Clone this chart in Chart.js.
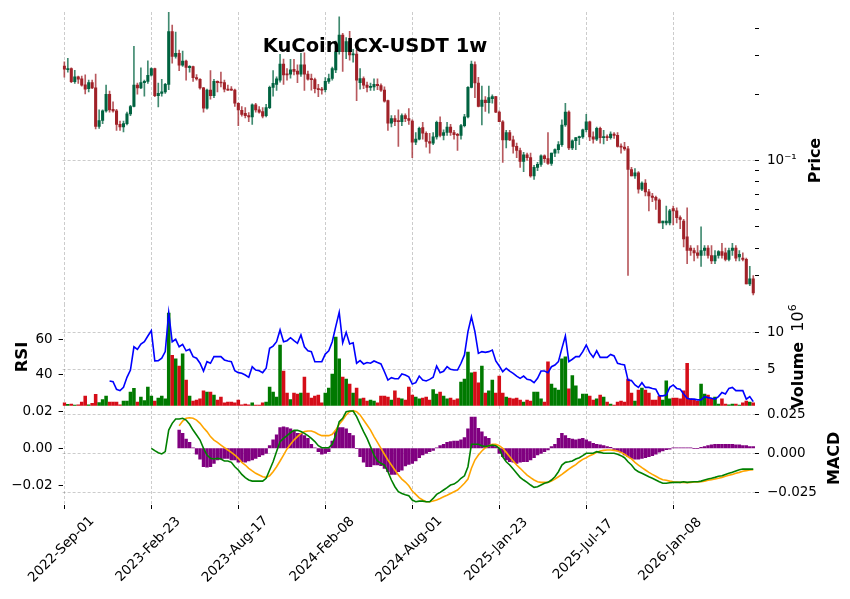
<!DOCTYPE html>
<html>
<head>
<meta charset="utf-8">
<script src="https://cdn.jsdelivr.net/npm/chart.js@4.4.1/dist/chart.umd.min.js"></script>
<style>
html, body { margin: 0; padding: 0; background: #fff; }
#wrap { position: relative; width: 850px; height: 599px; overflow: hidden; }
canvas { position: absolute; left: 0; }
</style>
</head>
<body>
<div id="wrap">
  <canvas id="cPrice" width="850" height="332" style="top:-8px"></canvas>
  <canvas id="cMid" width="850" height="142" style="top:284px"></canvas>
  <canvas id="cMacd" width="850" height="213" style="top:386px"></canvas>
</div>
<script>
// weekly candles, KuCoin ICX-USDT, first week 2022-09-01
const xTickIdx = [0, 25, 50, 75, 100, 125, 150, 175];
const xTickLabels = ['2022-Sep-01', '2023-Feb-23', '2023-Aug-17', '2024-Feb-08',
                     '2024-Aug-01', '2025-Jan-23', '2025-Jul-17', '2026-Jan-08'];

const opens = [
  .269,.259,.262,.228,.240,.235,.221,.212,.226,.214,
  .143,.152,.168,.200,.171,.168,.146,.142,.147,.163,
  .176,.220,.214,.226,.229,.244,.262,.197,.202,.205,
  .222,.386,.297,.307,.271,.283,.264,.267,.238,.234,
  .214,.173,.209,.197,.229,.226,.226,.211,.210,.209,
  .182,.169,.164,.160,.158,.179,.170,.167,.160,.174,
  .215,.222,.232,.274,.247,.247,.260,.255,.247,.272,
  .247,.236,.233,.212,.211,.210,.229,.236,.258,.312,
  .372,.312,.347,.302,.305,.226,.236,.220,.215,.216,
  .222,.219,.209,.187,.148,.155,.152,.150,.160,.155,
  .151,.121,.125,.141,.133,.122,.120,.128,.149,.130,
  .134,.142,.134,.131,.130,.144,.158,.215,.273,.225,
  .176,.188,.183,.191,.195,.166,.150,.124,.134,.124,
  .116,.111,.099,.106,.103,.085,.093,.096,.105,.102,
  .097,.108,.112,.118,.145,.166,.114,.123,.127,.128,
  .138,.150,.128,.125,.140,.127,.128,.127,.132,.130,
  .116,.115,.113,.091,.085,.088,.074,.079,.072,.069,
  .068,.066,.052,.052,.052,.0605,.059,.055,.053,.045,
  .040,.039,.038,.037,.039,.040,.037,.035,.037,.0385,
  .038,.0355,.039,.040,.0365,.036,.0355,.0275,.029
];
const highs = [
  .281,.291,.264,.257,.242,.242,.245,.232,.232,.247,
  .170,.170,.220,.207,.185,.171,.151,.151,.166,.178,
  .330,.225,.264,.232,.284,.264,.263,.225,.234,.224,
  .476,.413,.384,.318,.314,.286,.270,.269,.246,.236,
  .215,.211,.256,.234,.230,.252,.232,.220,.217,.211,
  .183,.176,.174,.165,.181,.182,.176,.174,.180,.218,
  .256,.240,.304,.289,.262,.288,.288,.272,.307,.309,
  .255,.247,.237,.222,.215,.238,.247,.266,.349,.450,
  .379,.362,.387,.320,.318,.262,.240,.227,.225,.235,
  .235,.223,.216,.188,.160,.160,.170,.163,.163,.172,
  .153,.134,.142,.149,.135,.133,.134,.151,.158,.138,
  .149,.146,.137,.133,.146,.162,.217,.283,.281,.239,
  .218,.195,.218,.199,.196,.168,.152,.137,.137,.129,
  .120,.114,.109,.108,.108,.095,.098,.106,.106,.134,
  .108,.113,.122,.153,.182,.168,.124,.127,.129,.139,
  .162,.151,.135,.142,.142,.137,.131,.135,.134,.134,
  .119,.121,.116,.093,.092,.089,.080,.082,.074,.071,
  .069,.067,.053,.062,.060,.062,.061,.056,.054,.061,
  .041,.040,.041,.050,.041,.041,.041,.039,.039,.042,
  .040,.040,.042,.041,.039,.038,.036,.033,.030
];
const lows = [
  .239,.252,.226,.224,.224,.218,.201,.205,.212,.139,
  .140,.147,.166,.166,.166,.137,.137,.135,.145,.160,
  .175,.200,.212,.196,.224,.242,.195,.175,.196,.202,
  .210,.277,.292,.256,.268,.232,.252,.229,.232,.211,
  .166,.171,.190,.193,.205,.216,.205,.208,.208,.176,
  .144,.159,.156,.150,.146,.166,.164,.156,.158,.172,
  .196,.208,.227,.222,.232,.237,.245,.226,.241,.208,
  .232,.209,.203,.195,.200,.205,.224,.232,.251,.304,
  .254,.290,.286,.280,.187,.211,.212,.205,.208,.208,
  .210,.206,.184,.137,.142,.144,.116,.144,.150,.146,
  .103,.118,.124,.125,.115,.108,.118,.125,.128,.124,
  .130,.130,.125,.111,.125,.142,.156,.214,.193,.175,
  .145,.167,.164,.182,.165,.150,.098,.114,.123,.108,
  .103,.093,.089,.100,.084,.082,.090,.094,.098,.096,
  .095,.104,.108,.116,.143,.112,.112,.112,.118,.126,
  .135,.123,.120,.123,.120,.119,.123,.125,.126,.115,
  .108,.111,.030,.085,.083,.071,.073,.069,.059,.065,
  .060,.052,.049,.051,.051,.051,.052,.049,.0405,.034,
  .037,.035,.036,.033,.037,.036,.034,.034,.036,.036,
  .035,.035,.037,.035,.035,.035,.0275,.027,.0245
];
const closes = [
  .260,.262,.228,.240,.234,.220,.211,.226,.214,.143,
  .152,.168,.200,.170,.168,.146,.142,.147,.163,.176,
  .220,.214,.226,.229,.244,.262,.197,.202,.205,.222,
  .386,.297,.307,.271,.283,.265,.268,.238,.235,.214,
  .173,.209,.197,.229,.226,.225,.211,.209,.209,.182,
  .170,.162,.160,.158,.179,.170,.166,.159,.174,.215,
  .224,.235,.274,.245,.245,.258,.254,.247,.272,.247,
  .234,.233,.212,.210,.209,.229,.236,.262,.312,.372,
  .312,.347,.302,.305,.232,.236,.220,.215,.216,.222,
  .219,.209,.186,.148,.155,.150,.150,.160,.155,.152,
  .121,.125,.140,.133,.122,.120,.128,.149,.130,.134,
  .142,.134,.131,.130,.144,.158,.215,.274,.225,.176,
  .188,.183,.193,.195,.166,.150,.124,.134,.124,.116,
  .111,.099,.106,.103,.085,.093,.096,.105,.102,.097,
  .108,.112,.118,.145,.166,.114,.123,.127,.128,.138,
  .150,.128,.125,.140,.127,.128,.127,.132,.130,.116,
  .115,.113,.091,.085,.088,.074,.079,.072,.069,.068,
  .066,.052,.053,.053,.059,.059,.055,.054,.044,.039,
  .039,.038,.037,.039,.040,.037,.035,.037,.0385,.037,
  .0355,.039,.040,.036,.0375,.0355,.0275,.029,.025
];
// volume in millions
const volumeM = [
  .35,.15,.2,.05,.1,.48,1.3,.1,.3,1.54,
  .4,.8,1.3,.48,.48,.48,.1,.62,.62,1.85,
  2.36,.48,1.17,.67,2.54,1.3,.62,1.03,1.3,.9,
  12.7,6.9,6.4,5.4,7.1,3.5,1.3,.62,.76,.9,
  2.0,1.85,1.85,1.44,.76,1.17,.35,.48,.48,.35,
  .76,.1,.2,.1,.35,.05,.05,.35,.48,2.54,
  1.85,1.17,8.3,4.74,1.71,.8,1.71,1.57,1.71,3.9,
  1.71,1.03,1.3,1.44,.35,1.71,2.4,4.33,9.4,6.4,
  3.9,3.64,2.95,1.71,2.4,.9,1.03,.62,.76,.62,
  .35,1.3,1.3,1.17,.76,2.0,1.03,.9,.76,2.54,
  1.44,1.17,.9,1.03,1.17,.76,2.2,1.57,1.85,1.3,
  .9,1.03,.76,.9,3.2,3.64,7.35,4.47,4.6,3.1,
  5.4,1.71,2.0,3.5,1.71,4.05,1.71,1.17,1.03,.9,
  1.03,.76,.48,.76,.62,1.85,1.85,.9,.48,6.0,
  2.95,2.4,2.1,6.4,6.7,2.3,4.1,2.7,.9,1.57,
  1.57,1.3,.76,.9,1.44,1.17,.48,.2,.05,.48,
  .62,.48,3.64,1.71,.62,2.1,2.4,2.1,1.71,.76,
  .76,1.3,.76,3.4,.9,1.03,1.03,.9,2.0,5.8,
  .9,.76,.62,2.95,1.57,1.44,.9,1.17,.2,.9,
  .2,.1,.2,.2,.05,.35,.62,.48,.35
];
const rsi = [
  null,null,null,null,null,null,null,null,null,null,
  null,null,null,36.0,35.6,31.2,30.4,32.3,38.1,42.3,
  55.7,54.2,57.3,58.6,61.9,65.0,47.5,47.7,49.1,52.9,
  75.3,58.6,60.0,55.7,57.1,53.4,54.2,50.0,49.1,46.2,
  41.7,47.1,46.2,50.0,50.0,50.0,48.1,47.5,47.1,41.9,
  40.8,40.4,39.4,38.1,44.2,42.3,41.9,40.8,43.3,54.8,
  56.1,58.6,65.4,58.6,59.2,60.9,59.2,57.7,62.5,55.7,
  53.4,52.9,47.1,47.1,47.1,51.5,53.4,58.6,67.3,75.6,
  58.0,64.0,57.3,58.0,46.2,47.7,45.8,46.6,46.2,47.5,
  46.6,45.8,41.3,36.5,37.9,37.3,37.3,40.0,39.4,38.4,
  34.2,35.0,38.8,36.5,36.0,36.9,38.1,44.6,40.8,41.6,
  44.2,42.7,42.3,42.3,46.2,51.0,64.4,73.0,64.4,51.9,
  52.9,52.5,52.9,53.8,47.5,44.6,41.3,43.3,41.7,40.4,
  38.8,37.5,38.8,36.9,36.5,35.0,37.5,41.7,41.7,40.8,
  44.2,45.2,47.1,54.8,61.9,47.1,48.5,50.0,50.0,52.9,
  56.7,52.3,49.6,53.4,49.6,49.6,49.6,51.3,50.4,46.2,
  45.6,45.2,36.5,36.2,33.7,32.3,35.0,32.3,32.3,31.7,
  31.2,27.4,27.4,27.9,32.3,33.7,31.7,31.2,28.5,26.0,
  25.5,25.5,25.1,25.1,27.0,26.4,26.0,25.5,27.0,29.3,
  28.5,31.7,32.3,30.4,30.4,30.4,25.5,27.0,24.1
];
const macd = [
  null,null,null,null,null,null,null,null,null,null,
  null,null,null,null,null,null,null,null,null,null,
  null,null,null,null,null,.0032,.0017,.0004,-.0004,.0011,
  .0149,.0192,.0220,.0220,.0224,.0213,.0186,.0149,.0117,.0085,
  .0032,-.0011,-.0032,-.0036,-.0032,-.0036,-.0049,-.0049,-.0058,-.0086,
  -.0107,-.0135,-.0156,-.0171,-.0178,-.0178,-.0178,-.0178,-.0160,-.0107,
  -.0054,.0011,.0075,.0096,.0113,.0132,.0147,.0147,.0139,.0128,
  .0113,.0096,.0075,.0049,.0036,.0036,.0036,.0058,.0117,.0203,
  .0224,.0267,.0271,.0271,.0235,.0186,.0139,.0096,.0043,-.0011,
  -.0049,-.0064,-.0075,-.0118,-.0171,-.0214,-.0246,-.0257,-.0265,-.0272,
  -.0299,-.0310,-.0306,-.0306,-.0310,-.0310,-.0289,-.0263,-.0250,-.0235,
  -.0220,-.0203,-.0197,-.0182,-.0160,-.0144,-.0086,.0058,.0058,.0058,
  .0049,.0043,.0049,.0053,.0049,.0032,-.0022,-.0054,-.0075,-.0101,
  -.0128,-.0154,-.0171,-.0186,-.0203,-.0218,-.0214,-.0203,-.0192,-.0186,
  -.0171,-.0150,-.0118,-.0075,-.0058,-.0054,-.0049,-.0036,-.0028,-.0015,
  .0000,.0000,.0000,.0011,.0006,.0000,.0000,.0000,.0000,-.0006,
  -.0015,-.0028,-.0054,-.0075,-.0103,-.0118,-.0128,-.0139,-.0150,-.0160,
  -.0171,-.0182,-.0192,-.0192,-.0188,-.0186,-.0186,-.0186,-.0182,-.0186,
  -.0184,-.0182,-.0182,-.0178,-.0171,-.0165,-.0160,-.0154,-.0147,-.0144,
  -.0135,-.0128,-.0122,-.0113,-.0105,-.0101,-.0101,-.0101,-.0101
];
const signal = [
  null,null,null,null,null,null,null,null,null,null,
  null,null,null,null,null,null,null,null,null,null,
  null,null,null,null,null,null,null,null,null,null,
  null,null,null,.0177,.0207,.0224,.0228,.0224,.0213,.0192,
  .0164,.0139,.0107,.0085,.0070,.0053,.0036,.0021,.0006,-.0011,
  -.0032,-.0058,-.0075,-.0096,-.0113,-.0128,-.0139,-.0150,-.0154,-.0144,
  -.0118,-.0086,-.0049,-.0011,.0028,.0058,.0085,.0107,.0128,.0139,
  .0143,.0143,.0135,.0122,.0113,.0113,.0113,.0122,.0149,.0186,
  .0213,.0246,.0267,.0273,.0267,.0246,.0213,.0181,.0149,.0107,
  .0070,.0032,-.0006,-.0043,-.0075,-.0107,-.0139,-.0165,-.0184,-.0208,
  -.0242,-.0263,-.0285,-.0299,-.0310,-.0310,-.0306,-.0299,-.0289,-.0278,
  -.0268,-.0257,-.0246,-.0235,-.0214,-.0192,-.0165,-.0096,-.0043,-.0011,
  .0015,.0036,.0049,.0058,.0058,.0049,.0032,.0006,-.0022,-.0049,
  -.0075,-.0096,-.0118,-.0139,-.0156,-.0171,-.0182,-.0186,-.0186,-.0186,
  -.0178,-.0165,-.0150,-.0135,-.0118,-.0101,-.0086,-.0073,-.0054,-.0039,
  -.0028,-.0015,-.0006,.0006,.0015,.0019,.0021,.0021,.0019,.0015,
  .0006,-.0006,-.0022,-.0036,-.0058,-.0075,-.0092,-.0107,-.0122,-.0135,
  -.0147,-.0160,-.0169,-.0173,-.0178,-.0182,-.0184,-.0186,-.0186,-.0188,
  -.0186,-.0184,-.0184,-.0182,-.0178,-.0173,-.0169,-.0165,-.0160,-.0154,
  -.0147,-.0141,-.0135,-.0128,-.0122,-.0115,-.0111,-.0107,-.0105
];
const histogram = [
  null,null,null,null,null,null,null,null,null,null,
  null,null,null,null,null,null,null,null,null,null,
  null,null,null,null,null,null,null,null,null,null,
  null,null,null,.0098,.0081,.0050,.0032,.0003,-.0032,-.0058,
  -.0099,-.0102,-.0099,-.0081,-.0063,-.0058,-.0054,-.0054,-.0063,-.0063,
  -.0075,-.0072,-.0075,-.0068,-.0063,-.0054,-.0045,-.0036,-.0027,.0014,
  .0045,.0072,.0111,.0116,.0111,.0104,.0093,.0081,.0081,.0068,
  .0054,.0022,.0003,-.0018,-.0032,-.0027,-.0018,.0039,.0093,.0111,
  .0111,.0104,.0081,.0068,.0000,-.0045,-.0075,-.0099,-.0099,-.0090,
  -.0090,-.0094,-.0108,-.0126,-.0140,-.0140,-.0126,-.0117,-.0095,-.0086,
  -.0081,-.0068,-.0050,-.0036,-.0027,-.0018,-.0011,.0003,.0014,.0022,
  .0032,.0036,.0039,.0039,.0045,.0057,.0104,.0168,.0168,.0108,
  .0089,.0063,.0054,.0022,.0009,-.0027,-.0045,-.0063,-.0072,-.0075,
  -.0081,-.0075,-.0072,-.0072,-.0063,-.0050,-.0036,-.0027,-.0018,-.0009,
  .0009,.0022,.0054,.0081,.0068,.0054,.0050,.0046,.0050,.0054,
  .0045,.0036,.0027,.0022,.0018,.0014,.0009,.0005,-.0009,-.0014,
  -.0021,-.0036,-.0045,-.0054,-.0058,-.0058,-.0054,-.0050,-.0045,-.0039,
  -.0032,-.0021,-.0014,-.0007,-.0004,.0003,.0003,.0003,.0003,.0002,
  .0002,0,0,.0005,.0009,.0014,.0018,.0022,.0022,.0022,
  .0022,.0022,.0022,.0018,.0018,.0014,.0014,.0009,.0009
];

const priceTicks = [0.03, 0.04, 0.05, 0.06, 0.07, 0.08, 0.09, 0.1, 0.2, 0.3, 0.4];

Chart.defaults.font.family = '"DejaVu Sans", sans-serif';
Chart.defaults.font.size = 13.5;
Chart.defaults.color = '#000';
Chart.defaults.animation = false;

const gridCol = 'rgba(0,0,0,0.25)';
const weeks = opens.map((_, i) => i);
const isUp = weeks.map(i => closes[i] >= opens[i]);
const FONT = '"DejaVu Sans", sans-serif';

function xScale(showTicks) {
  return {
    type: 'linear', min: -0.5, max: 198.5, offset: false,
    afterBuildTicks: s => { s.ticks = xTickIdx.map(v => ({ value: v })); },
    ticks: { display: false },
    grid: { color: gridCol, lineWidth: 0.8, offset: false, drawTicks: showTicks,
            tickLength: 4, tickColor: '#000', tickWidth: 1 },
    border: { display: false, dash: [3, 2] },
    afterFit: s => { s.height = showTicks ? 4 : 0; }
  };
}

function yScale(pos, min, max, ticks, labelFn, gridOn, type) {
  return {
    type: type || 'linear', position: pos, min: min, max: max,
    afterBuildTicks: s => { s.ticks = ticks.map(v => ({ value: v })); },
    ticks: { callback: labelFn, padding: pos === 'right' ? 8 : 6, autoSkip: false, maxRotation: 0, font: { size: 13.5 } },
    grid: {
      drawOnChartArea: !!gridOn, lineWidth: 0.8, tickLength: 4, tickColor: '#000', tickWidth: 1,
      color: c => (gridOn && gridOn(c.tick ? c.tick.value : null)) ? gridCol : 'rgba(0,0,0,0)'
    },
    border: { display: false, dash: [3, 2] },
    afterFit: s => { s.width = pos === 'right' ? 95 : 62.6; }
  };
}

// rotated text helper: bx = baseline x, cy = centre y (canvas coords)
function vText(ctx, parts, bx, cy) {
  ctx.save();
  ctx.translate(bx, cy);
  ctx.rotate(-Math.PI / 2);
  ctx.fillStyle = '#000';
  ctx.textAlign = 'left';
  ctx.textBaseline = 'alphabetic';
  let total = 0;
  parts.forEach(p => { ctx.font = p.font; p.w = ctx.measureText(p.t).width; total += p.w; });
  let x = -total / 2;
  parts.forEach(p => { ctx.font = p.font; ctx.fillText(p.t, x, p.dy || 0); x += p.w; });
  ctx.restore();
}

const baseOpts = {
  responsive: false, animation: false, events: [],
  plugins: { legend: { display: false }, tooltip: { enabled: false }, title: { display: false } }
};

// ---- price panel (canvas top at page y = -8)
new Chart(document.getElementById('cPrice'), {
  type: 'bar',
  data: {
    datasets: [
      { data: weeks.map(i => ({ x: i, y: [opens[i], closes[i]] })),
        backgroundColor: weeks.map(i => isUp[i] ? '#006340' : '#a02128'),
        barThickness: 2.4, grouped: false, minBarLength: 1 },
      { data: weeks.map(i => ({ x: i, y: [lows[i], highs[i]] })),
        backgroundColor: weeks.map(i => isUp[i] ? 'rgba(0,99,64,0.75)' : 'rgba(160,33,40,0.75)'),
        barThickness: 1, grouped: false }
    ]
  },
  options: Object.assign({}, baseOpts, {
    layout: { padding: { left: 62.6, right: 0, top: 20, bottom: 20 }, autoPadding: false },
    scales: {
      x: xScale(false),
      y: yScale('right', 0.02227, 0.4732, priceTicks, v => v === 0.1 ? '10\u207B\u00B9' : '',
                v => v === 0.1, 'logarithmic')
    }
  }),
  plugins: [{
    id: 'priceText',
    afterDraw(chart) {
      const ctx = chart.ctx;
      ctx.save();
      ctx.fillStyle = '#000';
      ctx.font = 'bold 19.5px ' + FONT;
      ctx.textAlign = 'center';
      ctx.textBaseline = 'middle';
      ctx.fillText('KuCoin ICX-USDT 1w', 375, 55);
      ctx.restore();
      vText(ctx, [{ t: 'Price', font: 'bold 16px ' + FONT }], 820, 168.5);
    }
  }]
});

// ---- RSI + volume panel (canvas top at page y = 284)
new Chart(document.getElementById('cMid'), {
  data: {
    datasets: [
      { type: 'line', data: weeks.map(i => ({ x: i, y: rsi[i] })), yAxisID: 'rsi',
        borderColor: '#0000ff', borderWidth: 1.6, pointRadius: 0, spanGaps: false, tension: 0 },
      { type: 'bar', data: weeks.map(i => ({ x: i, y: volumeM[i] })), yAxisID: 'vol',
        backgroundColor: weeks.map(i => isUp[i] ? '#007a00' : '#d50d18'),
        barThickness: 2.9, grouped: false }
    ]
  },
  options: Object.assign({}, baseOpts, {
    layout: { padding: { left: 0, right: 0, top: 20, bottom: 20 }, autoPadding: false },
    scales: {
      x: xScale(false),
      rsi: yScale('left', 21.56, 80.35, [40, 60], v => String(v), null),
      vol: yScale('right', -0.07, 13.94, [5, 10], v => String(v), v => v === 5 || v === 10)
    }
  }),
  plugins: [{
    id: 'midText',
    afterDraw(chart) {
      const ctx = chart.ctx;
      vText(ctx, [{ t: 'RSI', font: 'bold 16.5px ' + FONT }], 26.5, 73);
      vText(ctx, [
        { t: 'Volume', font: 'bold 16px ' + FONT },
        { t: '  10', font: '16px ' + FONT },
        { t: '6', font: '11px ' + FONT, dy: -7 }
      ], 803, 72.5);
    }
  }]
});

// ---- MACD panel (canvas top at page y = 386)
const minus = v => v < 0 ? '\u2212' : '';
new Chart(document.getElementById('cMacd'), {
  data: {
    datasets: [
      { type: 'line', data: weeks.map(i => ({ x: i, y: macd[i] })), yAxisID: 'm',
        borderColor: '#008000', borderWidth: 1.6, pointRadius: 0, tension: 0 },
      { type: 'line', data: weeks.map(i => ({ x: i, y: signal[i] })), yAxisID: 'm',
        borderColor: '#ffa500', borderWidth: 1.6, pointRadius: 0, tension: 0 },
      { type: 'bar', data: weeks.map(i => ({ x: i, y: histogram[i] })), yAxisID: 'h',
        backgroundColor: '#800080', barThickness: 2.8, grouped: false }
    ]
  },
  options: Object.assign({}, baseOpts, {
    layout: { padding: { left: 0, right: 0, top: 20, bottom: 90 }, autoPadding: false },
    scales: {
      x: xScale(true),
      h: yScale('left', -0.03048, 0.02274, [-0.02, 0, 0.02], v => minus(v) + Math.abs(v).toFixed(2), null),
      m: yScale('right', -0.0331, 0.0303, [-0.025, 0, 0.025], v => minus(v) + Math.abs(v).toFixed(3), () => true)
    }
  }),
  plugins: [{
    id: 'macdText',
    afterDraw(chart) {
      const ctx = chart.ctx, sx = chart.scales.x;
      vText(ctx, [{ t: 'MACD', font: 'bold 16px ' + FONT }], 839, 72.3);
      ctx.save();
      ctx.fillStyle = '#000';
      ctx.font = '13.5px ' + FONT;
      ctx.textAlign = 'center';
      ctx.textBaseline = 'middle';
      xTickIdx.forEach((v, k) => {
        ctx.save();
        ctx.translate(sx.getPixelForValue(v) - 3, 163.5);
        ctx.rotate(-Math.PI / 4);
        ctx.fillText(xTickLabels[k], 0, 0);
        ctx.restore();
      });
      ctx.restore();
    }
  }]
});
</script>
</body>
</html>
